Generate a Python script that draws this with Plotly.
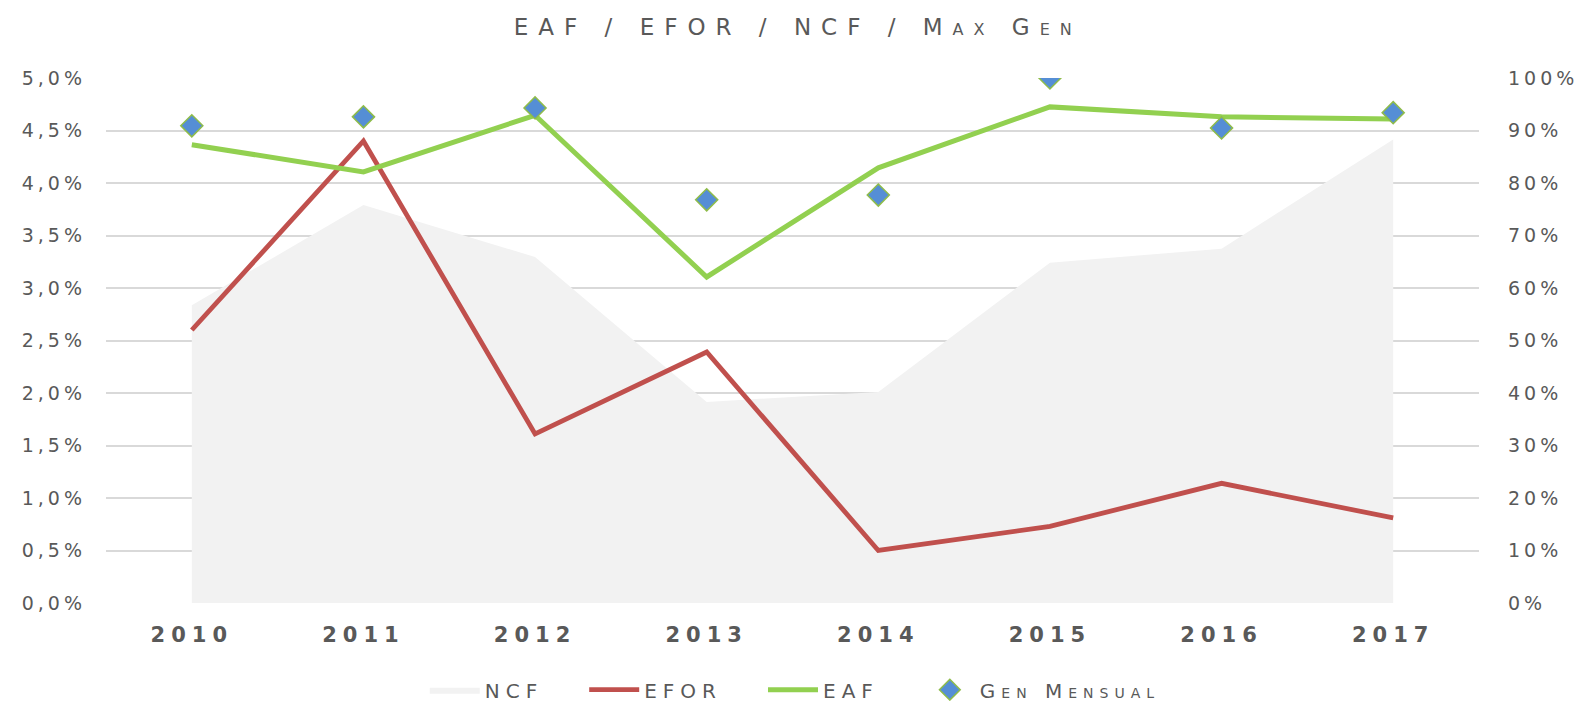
import plotly.graph_objects as go

years = ["2010", "2011", "2012", "2013", "2014", "2015", "2016", "2017"]
ncf = [0.567, 0.758, 0.659, 0.383, 0.402, 0.648, 0.675, 0.883]
efor = [0.0260, 0.0440, 0.0161, 0.0239, 0.0050, 0.0073, 0.0114, 0.0081]
eaf = [0.873, 0.821, 0.929, 0.621, 0.829, 0.945, 0.926, 0.922]
gen_mensual = [0.909, 0.926, 0.943, 0.768, 0.777, 1.000, 0.905, 0.934]

left_tickvals = [0, 0.005, 0.01, 0.015, 0.02, 0.025, 0.03, 0.035, 0.04, 0.045, 0.05]
left_ticktext = ["0,0%", "0,5%", "1,0%", "1,5%", "2,0%", "2,5%", "3,0%", "3,5%", "4,0%", "4,5%", "5,0%"]
right_tickvals = [0, 0.1, 0.2, 0.3, 0.4, 0.5, 0.6, 0.7, 0.8, 0.9, 1.0]
right_ticktext = ["0%", "10%", "20%", "30%", "40%", "50%", "60%", "70%", "80%", "90%", "100%"]

FONT = "DejaVu Sans"
TXT = "#595959"


def spaced(s, px):
    return f'<span style="letter-spacing:{px}px">{s}</span>'


def legend_name(s, px, tail):
    # letter-spaced label with extra trailing gap after the last glyph
    return f'<span style="letter-spacing:{px}px">{s[:-1]}</span>' \
           f'<span style="letter-spacing:{px + tail}px">{s[-1]}</span>'


fig = go.Figure()
# bottom layer (primary y, right side 0-100 %)
fig.add_trace(go.Scatter(
    x=years, y=ncf, name=legend_name("NCF", 6, 36), yaxis="y", mode="lines",
    fill="tozeroy", fillcolor="#f2f2f2", line=dict(width=0, color="#f2f2f2"),
))
# middle layer (left 0-5 %)
fig.add_trace(go.Scatter(
    x=years, y=efor, name=legend_name("EFOR", 6, 36), yaxis="y2", mode="lines",
    line=dict(color="#c0504d", width=4.8),
))
# top layer (same 0-100 % scale as primary)
fig.add_trace(go.Scatter(
    x=years, y=eaf, name=legend_name("EAF", 6, 36), yaxis="y3", mode="lines",
    line=dict(color="#92d050", width=5),
))
fig.add_trace(go.Scatter(
    x=years, y=gen_mensual, name=spaced("Gen Mensual", 6), yaxis="y3", mode="markers",
    marker=dict(symbol="diamond", size=17, color="#558ed5",
                line=dict(color="#8fbc4a", width=1.5)),
))

fig.update_layout(
    width=1586, height=701,
    paper_bgcolor="white", plot_bgcolor="white",
    margin=dict(l=106, r=107, t=78, b=98, autoexpand=False),
    title=dict(
        text=spaced("EAF / EFOR / NCF / Max Gen", 10),
        x=0.503, xanchor="center", y=0.962, yanchor="middle",
        font=dict(family=FONT, size=23, color=TXT, variant="small-caps"),
    ),
    xaxis=dict(
        type="category", range=[-0.5, 7.5],
        tickvals=years, ticktext=[spaced(y, 6) for y in years],
        showgrid=False, showline=False, zeroline=False,
        ticks="", ticklabelstandoff=17,
        tickfont=dict(family=FONT, size=21, color=TXT, weight="bold"),
    ),
    yaxis=dict(
        range=[0, 1.0], side="right",
        tickvals=right_tickvals, ticktext=[spaced(t, 4) for t in right_ticktext],
        showgrid=True, gridcolor="#d9d9d9", gridwidth=1.6,
        zeroline=False, showline=False, ticks="", ticklabelstandoff=28,
        tickfont=dict(family=FONT, size=19, color=TXT),
    ),
    yaxis2=dict(
        range=[0, 0.05], side="left", overlaying="y",
        tickvals=left_tickvals, ticktext=[spaced(t, 4) for t in left_ticktext],
        showgrid=False, zeroline=False, showline=False, ticks="", ticklabelstandoff=19,
        tickfont=dict(family=FONT, size=19, color=TXT),
    ),
    yaxis3=dict(
        range=[0, 1.0], overlaying="y", side="right", visible=False,
    ),
    legend=dict(
        orientation="h", x=0.502, xanchor="center", y=-0.128, yanchor="top",
        font=dict(family=FONT, size=20, color=TXT, variant="small-caps"),
        tracegroupgap=0, itemwidth=50,
    ),
    showlegend=True,
)

fig.write_html("out.html", config={"displayModeBar": False},
               post_script="document.body.style.margin='0px';")
